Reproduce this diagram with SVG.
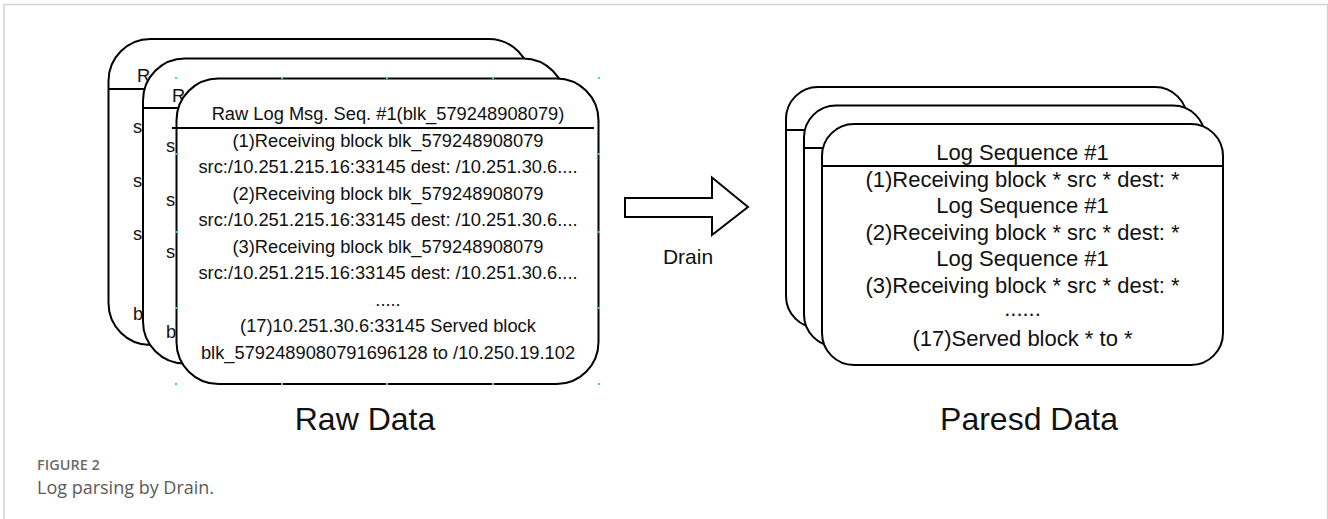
<svg xmlns="http://www.w3.org/2000/svg" width="1328" height="519" viewBox="0 0 1328 519">
  <style>
    .card { fill: #ffffff; stroke: #000000; stroke-width: 2; }
    .hdr { stroke: #000000; stroke-width: 2; fill: none; }
    .t18 { font-family: "Liberation Sans", Arial, sans-serif; font-size: 18.3px; fill: #111111; }
    .t22 { font-family: "Liberation Sans", Arial, sans-serif; font-size: 22px; fill: #111111; text-anchor: middle; }
    .mid { text-anchor: middle; }
    .title { font-family: "Liberation Sans", Arial, sans-serif; font-size: 32px; fill: #111111; text-anchor: middle; }
    .handle { fill: #4fc3f7; }
    .cap1 { font-family: "Open Sans", "Noto Sans", sans-serif; font-size: 14.5px; font-weight: 600; fill: #6b6b6b; }
    .cap2 { font-family: "Open Sans", "Noto Sans", sans-serif; font-size: 18px; fill: #5a5a5a; }
  </style>
  <rect x="0" y="0" width="1328" height="519" fill="#ffffff"/>
  <rect x="4" y="4.5" width="1323.5" height="540" fill="none" stroke="#d2d2d2" stroke-width="1.5"/>

  <!-- Raw data stack -->
  <g id="raw-card-1">
    <rect class="card" x="108.5" y="39" width="422" height="306" rx="42" ry="42"/>
    <line class="hdr" x1="108.5" y1="89" x2="530" y2="89"/>
    <text class="t18" x="137" y="82">R</text>
    <text class="t18" x="133" y="133">s</text>
    <text class="t18" x="133" y="187">s</text>
    <text class="t18" x="133" y="240">s</text>
    <text class="t18" x="133" y="320">b</text>
  </g>
  <g id="raw-card-2">
    <rect class="card" x="143" y="58.5" width="422" height="305" rx="42" ry="42"/>
    <line class="hdr" x1="143" y1="108" x2="565" y2="108"/>
    <text class="t18" x="172" y="102">R</text>
    <text class="t18" x="166" y="152">s</text>
    <text class="t18" x="166" y="206">s</text>
    <text class="t18" x="166" y="258">s</text>
    <text class="t18" x="166" y="338">b</text>
  </g>
  <g id="raw-card-3">
    <rect class="card" x="176.5" y="78.5" width="422" height="305.5" rx="42" ry="42"/>
    <line class="hdr" x1="172" y1="128" x2="594" y2="128"/>
    <text class="t18 mid" x="388" y="120">Raw Log Msg. Seq. #1(blk_579248908079)</text>
    <text class="t18 mid" x="388" y="146.5">(1)Receiving block blk_579248908079</text>
    <text class="t18 mid" x="388" y="173">src:/10.251.215.16:33145 dest: /10.251.30.6....</text>
    <text class="t18 mid" x="388" y="199.5">(2)Receiving block blk_579248908079</text>
    <text class="t18 mid" x="388" y="226">src:/10.251.215.16:33145 dest: /10.251.30.6....</text>
    <text class="t18 mid" x="388" y="252.5">(3)Receiving block blk_579248908079</text>
    <text class="t18 mid" x="388" y="279">src:/10.251.215.16:33145 dest: /10.251.30.6....</text>
    <text class="t18 mid" x="388" y="305.5">.....</text>
    <text class="t18 mid" x="388" y="332">(17)10.251.30.6:33145 Served block</text>
    <text class="t18 mid" x="388" y="358.5">blk_5792489080791696128 to /10.250.19.102</text>
  </g>
  <g id="selection-handles">
    <rect class="handle" x="175" y="77" width="2" height="2"/>
    <rect class="handle" x="281" y="77" width="2" height="2"/>
    <rect class="handle" x="386" y="77" width="2" height="2"/>
    <rect class="handle" x="492" y="77" width="2" height="2"/>
    <rect class="handle" x="598" y="77" width="2" height="2"/>
    <rect class="handle" x="175" y="383" width="2" height="2"/>
    <rect class="handle" x="281" y="383" width="2" height="2"/>
    <rect class="handle" x="386" y="383" width="2" height="2"/>
    <rect class="handle" x="492" y="383" width="2" height="2"/>
    <rect class="handle" x="598" y="383" width="2" height="2"/>
    <rect class="handle" x="175" y="153" width="2" height="2"/>
    <rect class="handle" x="175" y="231" width="2" height="2"/>
    <rect class="handle" x="175" y="307" width="2" height="2"/>
    <rect class="handle" x="598" y="153" width="2" height="2"/>
    <rect class="handle" x="598" y="231" width="2" height="2"/>
    <rect class="handle" x="598" y="307" width="2" height="2"/>
  </g>

  <!-- Parsed data stack -->
  <g id="parsed-card-1">
    <rect class="card" x="786" y="87" width="401" height="241" rx="32" ry="32"/>
    <line class="hdr" x1="786" y1="130" x2="1187" y2="130"/>
  </g>
  <g id="parsed-card-2">
    <rect class="card" x="804" y="105.5" width="401" height="241" rx="32" ry="32"/>
    <line class="hdr" x1="804" y1="148" x2="1205" y2="148"/>
  </g>
  <g id="parsed-card-3">
    <rect class="card" x="822" y="124" width="401" height="241" rx="32" ry="32"/>
    <line class="hdr" x1="822" y1="166" x2="1223" y2="166"/>
    <text class="t22" x="1022.5" y="160">Log Sequence #1</text>
    <text class="t22" x="1022.5" y="186.5">(1)Receiving block * src * dest: *</text>
    <text class="t22" x="1022.5" y="213">Log Sequence #1</text>
    <text class="t22" x="1022.5" y="239.5">(2)Receiving block * src * dest: *</text>
    <text class="t22" x="1022.5" y="266">Log Sequence #1</text>
    <text class="t22" x="1022.5" y="292.5">(3)Receiving block * src * dest: *</text>
    <text class="t22" x="1022.5" y="316">......</text>
    <text class="t22" x="1022.5" y="345.5">(17)Served block * to *</text>
  </g>

  <!-- Connector: Drain block arrow -->
  <g id="connectors">
    <polygon points="625,198 712,198 712,177.5 748,207 712,235 712,217 625,217" fill="#ffffff" stroke="#000000" stroke-width="2" stroke-linejoin="miter"/>
    <text x="688" y="263.5" font-family="Liberation Sans, Arial, sans-serif" font-size="21" fill="#111111" text-anchor="middle">Drain</text>
  </g>

  <g id="titles">
    <text class="title" x="365" y="430">Raw Data</text>
    <text class="title" x="1029" y="430">Paresd Data</text>
  </g>

  <g id="caption">
    <text class="cap1" x="37" y="470">FIGURE 2</text>
    <text class="cap2" x="37" y="494">Log parsing by Drain.</text>
  </g>
</svg>
